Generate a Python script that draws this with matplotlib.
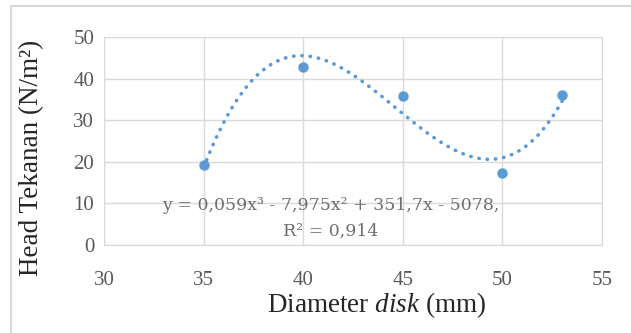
import numpy as np
import matplotlib
matplotlib.use("Agg")
from matplotlib import pyplot as plt
from matplotlib.patches import Rectangle

plt.rcParams["mathtext.fontset"] = "custom"
plt.rcParams["mathtext.it"] = "Liberation Serif:italic"
plt.rcParams["mathtext.rm"] = "Liberation Serif"

# data
diameter = [35, 40, 45, 50, 53]
head = [19.2, 42.9, 35.8, 17.2, 36.1]
equation = "y = 0,059x\u00b3 - 7,975x\u00b2 + 351,7x - 5078,"
r_squared = "R\u00b2 = 0,914"

blue = "#5B9BD5"
grid = "#D9D9D9"

fig = plt.figure(figsize=(6.31, 3.33), dpi=100)
# plot area in pixels: x 104..602, y 37..245
ax = fig.add_axes([104 / 631, 1 - 245 / 333, 498 / 631, 208 / 333])

# chart frame (clipped at right and bottom like the reference)
fig.patches.append(Rectangle((11 / 631, -0.1), 1.1, 1 - 6 / 333 + 0.1,
                             transform=fig.transFigure, fill=False,
                             edgecolor="#D9D9D9", linewidth=1.5))

# cubic trendline fitted to the points
coef = np.polyfit(diameter, head, 3)
xs = np.linspace(min(diameter), max(diameter), 300)
ax.plot(xs, np.polyval(coef, xs), color=blue, linestyle=(0, (0.1, 2.2)),
        linewidth=2.6, dash_capstyle="round", zorder=3)
ax.plot(diameter, head, "o", color=blue, markersize=6.5, zorder=4)

ax.set_xlim(30, 55)
ax.set_ylim(0, 50)
ax.set_xticks(range(30, 56, 5))
ax.set_yticks(range(0, 51, 10))
ax.grid(True, color=grid, linewidth=1)
ax.set_axisbelow(True)
for s in ax.spines.values():
    s.set_color(grid)
ax.tick_params(length=0, labelsize=15, colors="#595959")
ax.tick_params(axis="y", pad=7)
ax.tick_params(axis="x", pad=19)
for lab in ax.get_xticklabels() + ax.get_yticklabels():
    lab.set_fontfamily("Liberation Serif")

fig.text(377 / 631, 1 - 305 / 333, "Diameter $\\it{disk}$ (mm)",
         ha="center", va="center", fontsize=19.5, family="Liberation Serif",
         color="#262626")
fig.text(32 / 631, 1 - 158 / 333, "Head Tekanan (N/m\u00b2)",
         ha="center", va="center", rotation=90, fontsize=19.5,
         family="Liberation Serif", color="#262626")

ax.text(41.37, 9.4, equation, ha="center", va="center", fontsize=12.5,
        family="DejaVu Serif", color="#6f6f6f")
ax.text(41.37, 3.4, r_squared, ha="center", va="center", fontsize=12.5,
        family="DejaVu Serif", color="#6f6f6f")

fig.savefig("out.png", dpi=100)
